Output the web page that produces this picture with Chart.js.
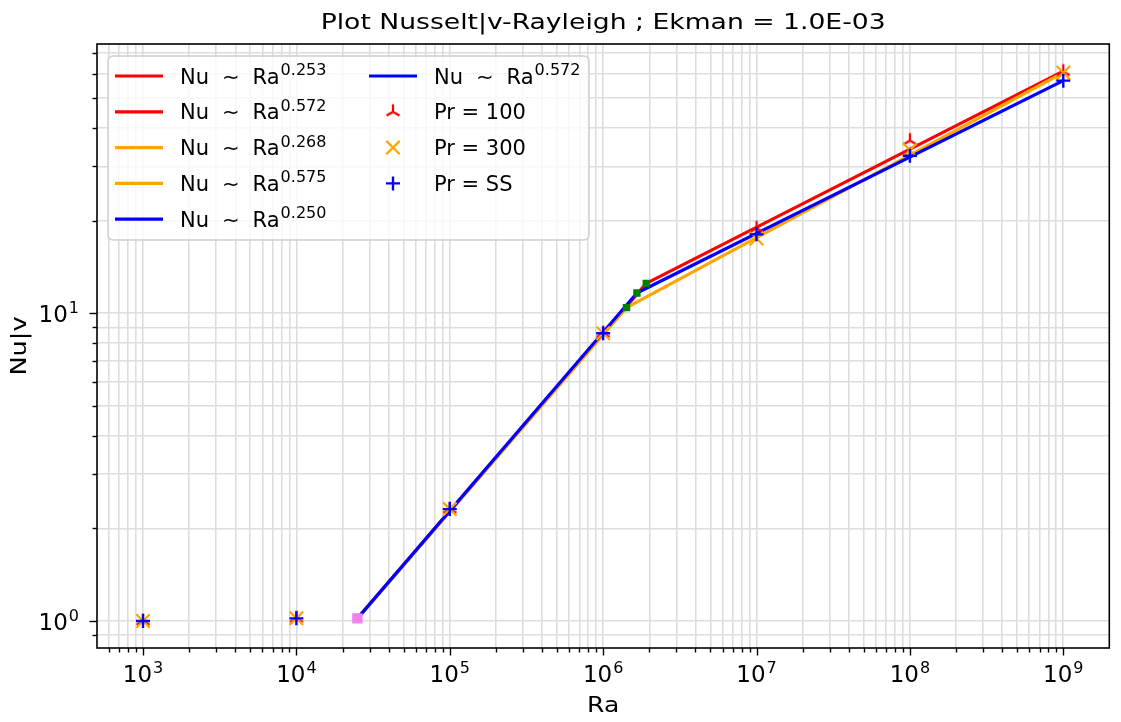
<!DOCTYPE html>
<html>
<head>
<meta charset="utf-8">
<script src="https://cdn.jsdelivr.net/npm/chart.js@4.4.0/dist/chart.umd.min.js"></script>
<style>
  html, body { margin: 0; padding: 0; background: #fff; overflow: hidden; }
  #wrap { width: 1121px; height: 722px; }
  canvas { display: block; }
</style>
</head>
<body>
<div id="wrap"><canvas id="chart" width="1121" height="722"></canvas></div>
<script>
// measured points
const ra = [1e3, 1e4, 1e5, 1e6, 1e7, 1e8, 1e9];
const nuPr100 = [1.00, 1.02, 2.31, 8.61, 18.9, 36.4, 61.0];
const nuPr300 = [1.00, 1.02, 2.31, 8.61, 17.5, 33.9, 60.5];
const nuPrSS  = [1.00, 1.02, 2.31, 8.61, 18.05, 32.5, 57.0];

// fitted power laws: [Ra, Nu] end points of each segment
const fitRedHigh    = [[1.91e6, 12.51], [1e9, 61.2]];
const fitRedLow     = [[2.5e4, 1.02], [1.91e6, 12.51]];
const fitOrangeHigh = [[1.42e6, 10.43], [1e9, 60.5]];
const fitOrangeLow  = [[2.5e4, 1.02], [1.42e6, 10.43]];
const fitBlueHigh   = [[1.66e6, 11.64], [1e9, 57.0]];
const fitBlueLow    = [[2.5e4, 1.02], [1.66e6, 11.64]];
const breakPoints   = [[1.42e6, 10.43], [1.66e6, 11.64], [1.91e6, 12.51]];
const onsetPoint    = [[2.5e4, 1.02]];

// tick labels (powers of ten)
const raTickExps = [3, 4, 5, 6, 7, 8, 9];
const nuTickExps = [0, 1];

const FONT = "'DejaVu Sans', sans-serif";

const pts = arr => arr.map(p => ({ x: p[0], y: p[1] }));
const series = ys => ra.map((x, i) => ({ x, y: ys[i] }));

// tri_up marker as a small canvas
function triMarker(color) {
  const c = document.createElement('canvas');
  c.width = 20; c.height = 20;
  const g = c.getContext('2d');
  const r = 7.5;
  g.strokeStyle = color;
  g.lineWidth = 2.2;
  g.beginPath();
  [90, 210, 330].forEach(a => {
    const t = a * Math.PI / 180;
    g.moveTo(10, 10);
    g.lineTo(10 + r * Math.cos(t), 10 - r * Math.sin(t));
  });
  g.stroke();
  return c;
}
const triRed = triMarker('#ff0000');

function lineSet(label, exp, data, color, order) {
  return {
    label, exp, data: pts(data), showLine: true, borderColor: color,
    borderWidth: 3.2, pointRadius: 0, order, legendKind: 'line'
  };
}

// grid / tick positions for a log axis: 1..9 x 10^n
function logTicks(min, max) {
  const out = [];
  for (let e = Math.floor(Math.log10(min)); e <= Math.ceil(Math.log10(max)); e++) {
    for (let m = 1; m < 10; m++) {
      const v = m * Math.pow(10, e);
      if (v >= min * 0.9999 && v <= max * 1.0001) out.push({ value: v, major: m === 1 });
    }
  }
  return out;
}

const datasets = [
  lineSet('Nu ∼ Ra', '0.253', fitRedHigh, '#ff0000', 12),
  lineSet('Nu ∼ Ra', '0.572', fitRedLow, '#ff0000', 11),
  lineSet('Nu ∼ Ra', '0.268', fitOrangeHigh, '#ffa500', 10),
  lineSet('Nu ∼ Ra', '0.575', fitOrangeLow, '#ffa500', 9),
  lineSet('Nu ∼ Ra', '0.250', fitBlueHigh, '#0000ff', 8),
  lineSet('Nu ∼ Ra', '0.572', fitBlueLow, '#0000ff', 7),
  { label: 'Pr = 100', data: series(nuPr100), pointStyle: triRed, pointRadius: 7,
    borderColor: '#ff0000', showLine: false, order: 6, legendKind: 'point' },
  { label: 'Pr = 300', data: series(nuPr300), pointStyle: 'crossRot', pointRadius: 9.5,
    borderColor: '#ffa500', borderWidth: 2.2, showLine: false, order: 5, legendKind: 'point' },
  { label: 'Pr = SS', data: series(nuPrSS), pointStyle: 'cross', pointRadius: 7,
    borderColor: '#0000ff', borderWidth: 2.4, showLine: false, order: 4, legendKind: 'point' },
  { label: 'breaks', data: pts(breakPoints), pointStyle: 'rect', pointRadius: 5.2,
    backgroundColor: '#008000', borderWidth: 0, showLine: false, order: 2 },
  { label: 'onset', data: pts(onsetPoint), pointStyle: 'rect', pointRadius: 7.4,
    backgroundColor: '#ee82ee', borderWidth: 0, showLine: false, order: 1 }
];

// base + superscript
function drawPow(ctx, x, y, base, exp, size, supSize, align, supRise) {
  ctx.font = size + 'px ' + FONT;
  const wb = ctx.measureText(base).width;
  ctx.font = supSize + 'px ' + FONT;
  const we = ctx.measureText(exp).width;
  let x0 = x;
  if (align === 'center') x0 = x - (wb + we + 1) / 2;
  if (align === 'right') x0 = x - (wb + we + 1);
  ctx.textAlign = 'left';
  ctx.textBaseline = 'alphabetic';
  ctx.font = size + 'px ' + FONT;
  ctx.fillText(base, x0, y);
  ctx.font = supSize + 'px ' + FONT;
  ctx.fillText(exp, x0 + wb + 1, y - supRise);
}

// text widened a bit, like the reference rendering
function wideText(ctx, text, x, y, size, sx, rot) {
  ctx.save();
  ctx.translate(x, y);
  if (rot) ctx.rotate(rot);
  ctx.scale(sx, 1);
  ctx.font = size + 'px ' + FONT;
  ctx.textAlign = 'center';
  ctx.textBaseline = 'alphabetic';
  ctx.fillText(text, 0, 0);
  ctx.restore();
}

const decor = {
  id: 'decor',
  afterDraw(chart) {
    const ctx = chart.ctx;
    const a = chart.chartArea;
    const xs = chart.scales.x, ys = chart.scales.y;
    ctx.save();
    ctx.fillStyle = '#000';
    ctx.strokeStyle = '#000';

    // tick marks
    ctx.lineWidth = 1.4;
    xs.ticks.forEach(t => {
      const px = Math.round(xs.getPixelForValue(t.value)) + 0.5;
      ctx.beginPath();
      ctx.moveTo(px, a.bottom);
      ctx.lineTo(px, a.bottom + (t.major ? 7.5 : 4.5));
      ctx.stroke();
    });
    ys.ticks.forEach(t => {
      const py = Math.round(ys.getPixelForValue(t.value)) + 0.5;
      ctx.beginPath();
      ctx.moveTo(a.left, py);
      ctx.lineTo(a.left - (t.major ? 7.5 : 4.5), py);
      ctx.stroke();
    });

    // tick labels
    raTickExps.forEach(e => {
      const px = xs.getPixelForValue(Math.pow(10, e));
      drawPow(ctx, px, a.bottom + 34, '10', String(e), 23, 16, 'center', 9.5);
    });
    nuTickExps.forEach(e => {
      const py = ys.getPixelForValue(Math.pow(10, e));
      drawPow(ctx, a.left - 18, py + 8.5, '10', String(e), 23, 16, 'right', 9);
    });

    // frame
    ctx.lineWidth = 1.6;
    ctx.strokeRect(a.left, a.top, a.right - a.left, a.bottom - a.top);

    // titles
    const cx = (a.left + a.right) / 2;
    wideText(ctx, 'Plot Nusselt|v-Rayleigh ; Ekman = 1.0E-03', cx, 28.5, 22, 1.21);
    wideText(ctx, 'Ra', cx, 712, 20.5, 1.22);
    wideText(ctx, 'Nu|v', 26, (a.top + a.bottom) / 2, 20.5, 1.25, -Math.PI / 2);

    // legend
    const lx = 108, ly = 56, lw = 481, lh = 184, rr = 5;
    ctx.beginPath();
    ctx.moveTo(lx + rr, ly);
    ctx.arcTo(lx + lw, ly, lx + lw, ly + lh, rr);
    ctx.arcTo(lx + lw, ly + lh, lx, ly + lh, rr);
    ctx.arcTo(lx, ly + lh, lx, ly, rr);
    ctx.arcTo(lx, ly, lx + lw, ly, rr);
    ctx.closePath();
    ctx.fillStyle = 'rgba(255,255,255,0.8)';
    ctx.fill();
    ctx.strokeStyle = '#d0d0d0';
    ctx.lineWidth = 1.5;
    ctx.stroke();

    const items = chart.data.datasets.filter(d => d.legendKind);
    const cols = [{ hx: 115, tx: 180 }, { hx: 369, tx: 434 }];
    items.forEach((d, i) => {
      const col = cols[i < 5 ? 0 : 1];
      const row = i < 5 ? i : i - 5;
      const y = 76 + row * 35.8;
      if (d.legendKind === 'line') {
        ctx.strokeStyle = d.borderColor;
        ctx.lineWidth = d.borderWidth;
        ctx.beginPath();
        ctx.moveTo(col.hx, y);
        ctx.lineTo(col.hx + 48, y);
        ctx.stroke();
      } else {
        const ps = d.pointStyle;
        if (typeof ps !== 'string') {
          ctx.drawImage(ps, col.hx + 24 - ps.width / 2, y - ps.height / 2);
        } else {
          ctx.strokeStyle = d.borderColor;
          ctx.lineWidth = d.borderWidth;
          Chart.helpers.drawPoint(ctx, {
            pointStyle: ps, radius: d.pointRadius, borderWidth: d.borderWidth
          }, col.hx + 24, y);
        }
      }
      ctx.fillStyle = '#000';
      ctx.textAlign = 'left';
      ctx.textBaseline = 'alphabetic';
      if (d.exp) {
        let x = col.tx;
        ['Nu', '∼', 'Ra'].forEach((s, k) => {
          ctx.font = '21px ' + FONT;
          ctx.fillText(s, x, y + 7.5);
          x += ctx.measureText(s).width + (k < 2 ? 13 : 1);
        });
        ctx.font = '16px ' + FONT;
        ctx.fillText(d.exp, x, y - 1);
      } else {
        ctx.font = '21px ' + FONT;
        ctx.fillText(d.label, col.tx, y + 7.5);
      }
    });
    ctx.restore();
  }
};

const gridOpts = { color: '#dddddd', lineWidth: 1.6, drawTicks: false };

new Chart(document.getElementById('chart').getContext('2d'), {
  type: 'scatter',
  data: { datasets },
  options: {
    responsive: false,
    animation: false,
    devicePixelRatio: 1,
    events: [],
    layout: { padding: { left: 97, right: -1, top: 44, bottom: 74 } },
    plugins: { legend: { display: false }, title: { display: false }, tooltip: { enabled: false } },
    scales: {
      x: {
        type: 'logarithmic', position: 'bottom',
        min: Math.pow(10, 2.7), max: Math.pow(10, 9.3),
        grid: gridOpts, border: { display: false },
        ticks: { display: false },
        afterBuildTicks: s => { s.ticks = logTicks(s.min, s.max); }
      },
      y: {
        type: 'logarithmic', position: 'left',
        min: Math.pow(10, -0.0877), max: Math.pow(10, 1.875),
        grid: gridOpts, border: { display: false },
        ticks: { display: false },
        afterBuildTicks: s => { s.ticks = logTicks(s.min, s.max); }
      }
    }
  },
  plugins: [decor]
});
</script>
</body>
</html>
